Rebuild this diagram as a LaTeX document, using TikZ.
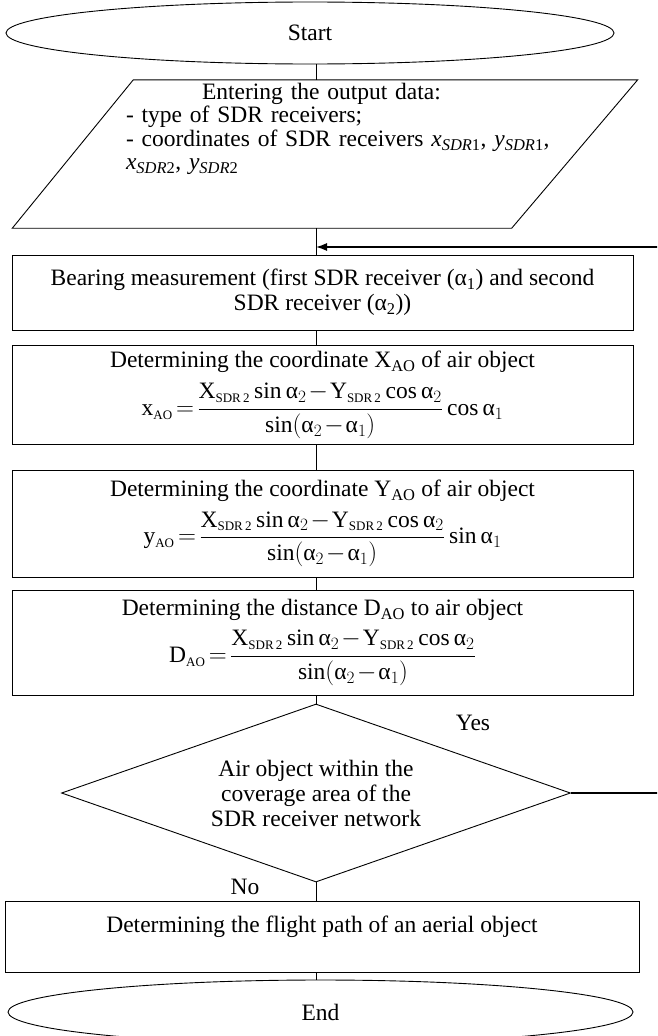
\documentclass[tikz,border=0pt]{standalone}
\usepackage{amsmath}
\usepackage{fontspec}
\setmainfont{Liberation Serif}
\usetikzlibrary{shapes.geometric,arrows.meta}
\newcommand{\al}{\text{α}}
\newcommand{\sub}[1]{\text{\fontsize{13pt}{13pt}\selectfont #1}}
\newcommand{\aofrac}{\dfrac{\mathrm{X}_{\sub{SDR\,2}}\sin\al_2-\mathrm{Y}_{\sub{SDR\,2}}\cos\al_2}{\sin(\al_2-\al_1)}}
\begin{document}
\begin{tikzpicture}[x=1pt,y=-1pt,
        every node/.style={font=\fontsize{23.5pt}{25pt}\selectfont,inner sep=0pt},
        term/.style={draw,line width=0.9pt,ellipse,minimum width=#1,minimum height=62pt},
        proc/.style={draw,line width=0.9pt,rectangle,align=center,minimum width=621pt,minimum height=#1},
        inout/.style={rectangle,minimum width=625pt,minimum height=148pt},
        decide/.style={draw,line width=0.9pt,diamond,aspect=2.86,align=center,minimum width=509pt,minimum height=178pt},
        flow/.style={line width=0.9pt}]
                \clip (0,0) rectangle (657,1036);
                \medmuskip=1.5mu \thickmuskip=2.5mu
                \coordinate (axis) at (316,0);
                \coordinate (join) at (316,247);
                \node[term=608pt] (start) at (310,33) {Start};
                \node[inout] (input) at (325,154) {};
                \draw[flow] ([xshift=121pt]input.north west) -- (input.north east)
                    -- ([xshift=-126pt]input.south east) -- (input.south west) -- cycle;
                \node[text width=430pt,align=left,font=\fontsize{23.5pt}{23.5pt}\selectfont] (inputtxt) at (341,129)
                    {\hspace*{76pt}Entering the output data:\\
                     - type of SDR receivers;\\
                     - coordinates of SDR receivers \textit{x}\textsubscript{\textit{SDR}1}, \textit{y}\textsubscript{\textit{SDR}1},\\
                     \textit{x}\textsubscript{\textit{SDR}2}, \textit{y}\textsubscript{\textit{SDR}2}};
                \node[proc=75pt] (bearing) at (322.5,292.5)
                    {Bearing measurement (first SDR receiver (α\textsubscript{1}) and second\\ SDR receiver (α\textsubscript{2}))};
                \node[proc=99pt] (coordx) at (322.5,395)
                    {Determining the coordinate X\textsubscript{AO} of air object\\[9pt]
                     $\mathrm{x}_{\sub{AO}}=\aofrac\cos\al_1$};
                \node[proc=107pt] (coordy) at (322.5,523.5)
                    {Determining the coordinate Y\textsubscript{AO} of air object\\[9pt]
                     $\mathrm{y}_{\sub{AO}}=\aofrac\sin\al_1$};
                \node[proc=105pt] (dist) at (322.5,642.5)
                    {Determining the distance D\textsubscript{AO} to air object\\[9pt]
                     $\mathrm{D}_{\sub{AO}}=\aofrac$};
                \node[decide] (check) at (316,793)
                    {Air object within the\\ coverage area of the\\ SDR receiver network};
                \node (yes) at (473,723) {Yes};
                \node (no) at (245,887) {No};
                \node[proc=71pt,minimum width=634pt] (track) at (322,936.5)
                    {Determining the flight path of an aerial object\\ \mbox{}};
                \node[term=625pt,minimum height=64pt] (end) at (320.5,1012) {End};
                \draw[flow] (start.south -| axis) -- (input.north -| axis);
                \draw[flow] (input.south -| axis) -- (bearing.north -| axis);
                \draw[flow] (bearing.south -| axis) -- (coordx.north -| axis);
                \draw[flow] (coordx.south -| axis) -- (coordy.north -| axis);
                \draw[flow] (coordy.south -| axis) -- (dist.north -| axis);
                \draw[flow] (dist.south -| axis) -- (check.north);
                \draw[flow] (check.south) -- (track.north -| axis);
                \draw[flow] (track.south -| axis) -- (end.north -| axis);
                \draw[flow,line width=1.3pt,-{Latex[length=11pt,width=8pt]}] (check.east) -- ++(120,0) |- (join);
            \end{tikzpicture}
\end{document}
